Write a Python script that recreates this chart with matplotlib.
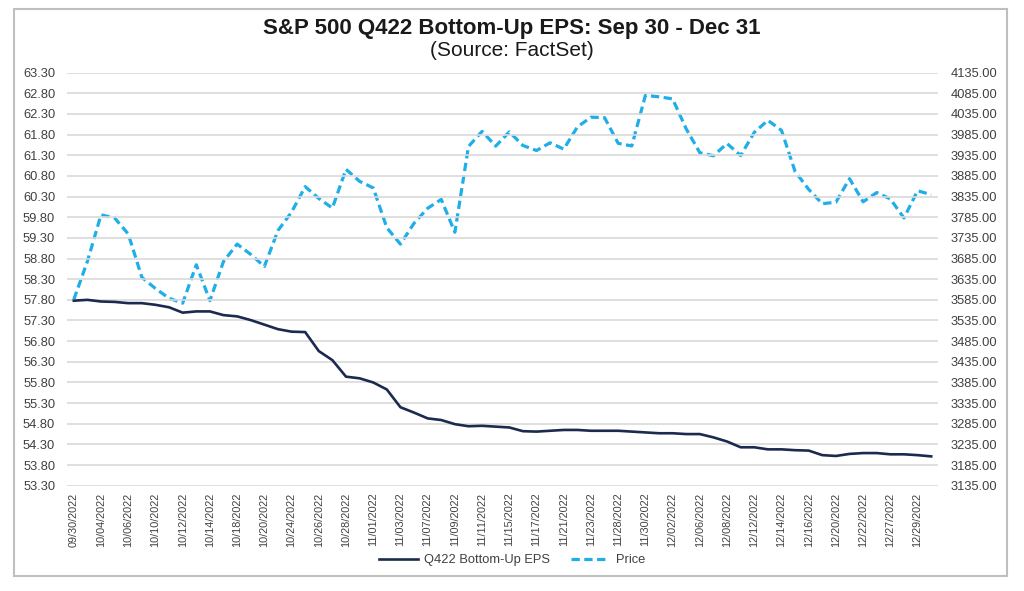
import matplotlib
matplotlib.use("Agg")
import matplotlib.pyplot as plt
import numpy as np
from matplotlib.patches import Rectangle

plt.rcParams['font.family'] = ['Liberation Sans', 'DejaVu Sans']

dates = ["09/30/2022",
         "10/03/2022", "10/04/2022", "10/05/2022", "10/06/2022", "10/07/2022",
         "10/10/2022", "10/11/2022", "10/12/2022", "10/13/2022", "10/14/2022",
         "10/17/2022", "10/18/2022", "10/19/2022", "10/20/2022", "10/21/2022",
         "10/24/2022", "10/25/2022", "10/26/2022", "10/27/2022", "10/28/2022",
         "10/31/2022", "11/01/2022", "11/02/2022", "11/03/2022", "11/04/2022",
         "11/07/2022", "11/08/2022", "11/09/2022", "11/10/2022", "11/11/2022",
         "11/14/2022", "11/15/2022", "11/16/2022", "11/17/2022", "11/18/2022",
         "11/21/2022", "11/22/2022", "11/23/2022", "11/25/2022",
         "11/28/2022", "11/29/2022", "11/30/2022", "12/01/2022", "12/02/2022",
         "12/05/2022", "12/06/2022", "12/07/2022", "12/08/2022", "12/09/2022",
         "12/12/2022", "12/13/2022", "12/14/2022", "12/15/2022", "12/16/2022",
         "12/19/2022", "12/20/2022", "12/21/2022", "12/22/2022", "12/23/2022",
         "12/27/2022", "12/28/2022", "12/29/2022", "12/30/2022"]

eps = [57.78, 57.80, 57.76, 57.75, 57.72, 57.72, 57.68, 57.62, 57.49, 57.52,
       57.52, 57.43, 57.40, 57.31, 57.20, 57.09, 57.03, 57.02, 56.56, 56.34,
       55.94, 55.90, 55.80, 55.63, 55.20, 55.07, 54.93, 54.89, 54.79, 54.74,
       54.75, 54.73, 54.71, 54.62, 54.61, 54.63, 54.65, 54.65, 54.63, 54.63,
       54.63, 54.61, 54.59, 54.57, 54.57, 54.55, 54.55, 54.47, 54.37, 54.23,
       54.23, 54.18, 54.18, 54.16, 54.15, 54.04, 54.02, 54.07, 54.09, 54.09,
       54.06, 54.06, 54.04, 54.01]

price = [3585.62, 3678.43, 3790.93, 3783.28, 3744.52, 3639.66, 3612.39, 3588.84,
         3577.03, 3669.91, 3583.07, 3677.95, 3719.98, 3695.16, 3665.78, 3752.75,
         3797.34, 3859.11, 3830.60, 3807.30, 3901.06, 3871.98, 3856.10, 3759.69,
         3719.89, 3770.55, 3806.80, 3828.11, 3748.57, 3956.37, 3992.93, 3957.25,
         3991.73, 3958.79, 3946.56, 3965.34, 3949.94, 4003.58, 4027.26, 4026.12,
         3963.94, 3957.63, 4080.11, 4076.57, 4071.70, 3998.84, 3941.26, 3933.92,
         3963.51, 3934.38, 3990.56, 4019.65, 3995.32, 3895.75, 3852.36, 3817.66,
         3821.62, 3878.44, 3822.39, 3844.82, 3829.25, 3783.22, 3849.28, 3839.50]

eps_ticks = np.arange(53.30, 63.31, 0.50)
price_ticks = np.arange(3135, 4136, 50)

eps_color = '#1b2a4e'
price_color = '#1eaee8'
text_color = '#404040'

fig = plt.figure(figsize=(10.24, 5.91), dpi=100)
fig.patches.append(Rectangle((14 / 1024, 1 - 576 / 591), 993 / 1024, 567 / 591,
                             transform=fig.transFigure, fill=False,
                             edgecolor='#bfbfbf', linewidth=1.5))

ax = fig.add_axes([67 / 1024, 1 - 485.7 / 591, 871 / 1024, 413 / 591])
ax2 = ax.twinx()

x = np.arange(len(dates))
l1, = ax.plot(x, eps, color=eps_color, lw=1.9, solid_joinstyle='round')
l2, = ax2.plot(x, price, color=price_color, lw=2.3, linestyle=(0, (2.6, 1.4)))

ax.set_xlim(-0.5, len(dates) - 0.5)
ax.set_ylim(eps_ticks[0], eps_ticks[-1])
ax2.set_ylim(price_ticks[0], price_ticks[-1])

ax.set_yticks(eps_ticks)
ax.set_yticklabels(['%.2f' % v for v in eps_ticks])
ax2.set_yticks(price_ticks)
ax2.set_yticklabels(['%.2f' % v for v in price_ticks])
ax.set_xticks(x[::2])
ax.set_xticklabels(dates[::2], rotation=90)

ax.grid(axis='y', color='#d9d9d9', lw=1.2)
ax.set_axisbelow(True)
for a in (ax, ax2):
    for s in a.spines.values():
        s.set_visible(False)
    a.tick_params(length=0, colors=text_color, labelsize=9.3)
ax.tick_params(axis='x', labelsize=7.8, pad=5)
ax.tick_params(axis='y', pad=8.5)
ax2.tick_params(axis='y', pad=9.3)

ax.set_zorder(ax2.get_zorder() + 1)
ax.patch.set_visible(False)

fig.text(0.5, 0.952, 'S&P 500 Q422 Bottom-Up EPS: Sep 30 - Dec 31', ha='center',
         va='center', fontsize=16, fontweight='bold', color='#1a1a1a')
fig.text(0.5, 0.914, '(Source: FactSet)', ha='center', va='center',
         fontsize=15, color='#1a1a1a')

fig.legend([l1, l2], ['Q422 Bottom-Up EPS', 'Price'], loc='center',
           bbox_to_anchor=(0.500, 0.052), ncol=2, frameon=False, fontsize=9.3,
           handlelength=3.0, handletextpad=0.5, columnspacing=1.6,
           labelcolor=text_color)

fig.savefig('out.png', dpi=100)
